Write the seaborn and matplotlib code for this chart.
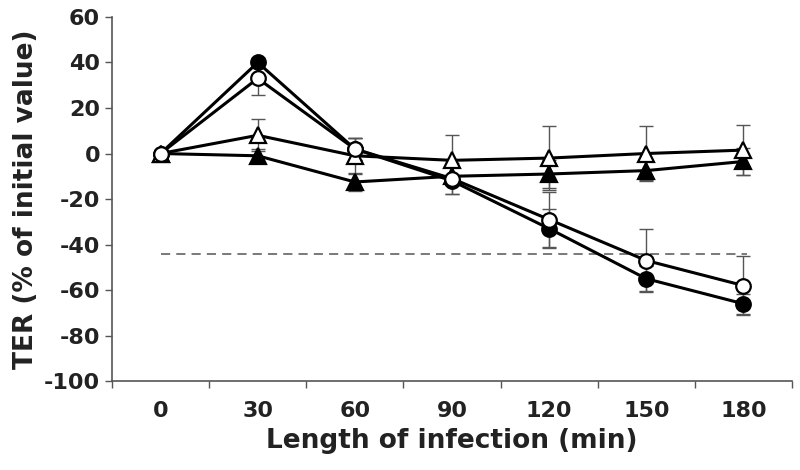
import numpy as np
import pandas as pd
import matplotlib
matplotlib.use("Agg")
import matplotlib.pyplot as plt
import seaborn as sns

# 数据
minutes = [0, 30, 60, 90, 120, 150, 180]
filled_circle = [0, 40, 2, -12, -33, -55, -66]
filled_circle_err = [0, 2, 5, 6, 8.5, 5.5, 4.5]
open_circle = [0, 33, 2, -11, -29, -47, -58]
open_circle_err = [0, 7.5, 5, 7, 12, 14, 13]
open_triangle = [0, 8, -1, -3, -2, 0, 1.5]
open_triangle_err = [0, 7, 8, 11, 14, 12, 11]
filled_triangle = [0, -1, -12.5, -10, -9, -7.5, -3.5]
filled_triangle_err = [0, 3, 4, 4, 6, 4, 6]
threshold = -44

sns.set_style("ticks")
plt.rcParams['font.family'] = ['DejaVu Sans']
plt.rcParams['font.weight'] = 'bold'
plt.rcParams['axes.unicode_minus'] = False

fig = plt.figure(figsize=(8, 4.7), dpi=100)
ax = fig.add_axes([0.14, 0.189, 0.85, 0.775])

series = [
    ("filled_circle", filled_circle, filled_circle_err, "o", "black"),
    ("filled_triangle", filled_triangle, filled_triangle_err, "^", "black"),
    ("open_triangle", open_triangle, open_triangle_err, "^", "white"),
    ("open_circle", open_circle, open_circle_err, "o", "white"),
]

# 误差线
for name, vals, errs, mk, fc in series:
    ax.errorbar(minutes, vals, yerr=errs, fmt="none", ecolor="#555555",
                elinewidth=1.0, capsize=5, capthick=1.0, zorder=1)

ax.hlines(threshold, 0, 181, colors="#555555", linestyles=(0, (6, 4)),
          linewidth=1.1, zorder=1)

z = 3
for name, vals, errs, mk, fc in series:
    df = pd.DataFrame({"time": minutes, "ter": vals})
    sns.lineplot(data=df, x="time", y="ter", ax=ax, color="black",
                 linewidth=2.2, marker=mk, markersize=10.5 if mk == "o" else 12,
                 markerfacecolor=fc, markeredgecolor="black",
                 markeredgewidth=1.6, zorder=z)
    z += 1

ax.set_xlim(-15, 195)
ax.set_ylim(-100, 60)
ax.set_yticks(np.arange(-100, 61, 20))
ax.set_xticks(minutes)
ax.set_xticks(np.arange(-15, 196, 30), minor=True)
ax.tick_params(axis="x", which="major", length=0, pad=14, labelsize=16)
ax.tick_params(axis="x", which="minor", length=5, width=1, color="#555555",
               direction="out")
ax.tick_params(axis="y", length=5, width=1, color="#555555", labelsize=16)

for lab in ax.get_xticklabels() + ax.get_yticklabels():
    lab.set_fontweight("bold")
    lab.set_color("#222222")

sns.despine(ax=ax)
for s in ("left", "bottom"):
    ax.spines[s].set_color("#555555")
    ax.spines[s].set_linewidth(1.2)

ax.set_xlabel("Length of infection (min)", fontsize=19, fontweight="bold",
              color="#222222", labelpad=5)
ax.set_ylabel("TER (% of initial value)", fontsize=19, fontweight="bold",
              color="#222222", labelpad=4)

plt.savefig("out.png", dpi=100)
